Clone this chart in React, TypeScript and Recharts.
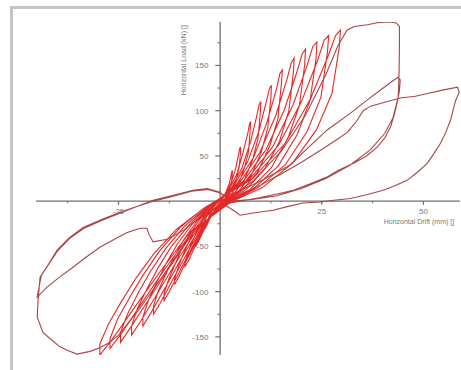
import React from 'react';
import { LineChart, Line, XAxis, YAxis, ReferenceLine, ReferenceDot } from 'recharts';

type Pt = [number, number];

// Inner (small amplitude) cycles: [drift mm, load kN]
const cycle1: Pt[] = [
  [0, 0], [0.8, 4], [1.6, 12], [2.3, 20], [2.7, 29], [2.9, 33], [3.0, 34],
  [3.0, 31], [2.8, 21], [2.4, 14], [1.8, 7], [1.1, 3], [0.3, 0],
  [-0.9, -6], [-1.9, -14], [-2.7, -21], [-3.3, -27], [-3.7, -30],
  [-3.7, -28], [-3.4, -24], [-3.0, -20], [-2.6, -15], [-2.0, -10], [-1.3, -5], [-0.6, -2],
];
const cycle2: Pt[] = [
  [1.4, 8], [2.7, 20], [3.8, 36], [4.5, 51], [4.8, 58], [5.0, 60],
  [5.0, 54], [4.7, 38], [4.0, 25], [3.0, 13], [1.8, 5], [0.5, 0],
  [-1.5, -10], [-3.0, -23], [-4.3, -35], [-5.4, -45], [-6.0, -50],
  [-6.0, -47], [-5.6, -40], [-4.9, -33], [-4.2, -25], [-3.3, -17], [-2.2, -9], [-0.9, -3],
];
const cycle3: Pt[] = [
  [2.0, 11], [4.1, 30], [5.6, 53], [6.8, 75], [7.2, 85], [7.5, 88],
  [7.4, 79], [7.0, 55], [6.0, 37], [4.5, 19], [2.6, 7], [0.8, 0],
  [-2.2, -14], [-4.3, -33], [-6.2, -50], [-7.7, -65], [-8.6, -72],
  [-8.6, -67], [-8.0, -58], [-7.1, -47], [-6.0, -36], [-4.7, -24], [-3.1, -13], [-1.3, -4],
];
const cycle4: Pt[] = [
  [2.7, 14], [5.4, 37], [7.5, 66], [9.0, 94], [9.6, 107], [10.0, 110],
  [9.9, 99], [9.3, 69], [8.0, 46], [6.0, 24], [3.5, 9], [1.0, 0],
  [-2.8, -18], [-5.6, -42], [-8.1, -64], [-10.1, -83], [-11.2, -92],
  [-11.2, -86], [-10.4, -74], [-9.2, -60], [-7.8, -46], [-6.2, -31], [-4.0, -17], [-1.7, -5],
];
const cycle5: Pt[] = [
  [3.4, 17], [6.8, 44], [9.5, 77], [11.3, 109], [12.1, 124], [12.6, 128],
  [12.5, 115], [11.7, 81], [10.1, 54], [7.6, 28], [4.4, 10], [1.3, 0],
  [-3.5, -22], [-6.9, -51], [-9.9, -77], [-12.4, -99], [-13.8, -110],
  [-13.8, -102], [-12.8, -88], [-11.3, -72], [-9.7, -55], [-7.6, -37], [-5.0, -20], [-2.1, -6],
];
const cycle6: Pt[] = [
  [4.1, 19], [8.3, 49], [11.5, 87], [13.8, 123], [14.7, 141], [15.3, 145],
  [15.1, 131], [14.2, 91], [12.2, 61], [9.2, 32], [5.4, 12], [1.5, 0],
  [-4.1, -25], [-8.2, -58], [-11.8, -88], [-14.8, -113], [-16.4, -125],
  [-16.4, -116], [-15.3, -100], [-13.4, -81], [-11.5, -63], [-9.0, -43], [-5.9, -23], [-2.5, -6],
];
const cycle7: Pt[] = [
  [4.9, 21], [9.8, 54], [13.7, 95], [16.4, 134], [17.5, 153], [18.2, 158],
  [18.0, 142], [16.9, 100], [14.6, 66], [10.9, 35], [6.4, 13], [1.8, 0],
  [-4.8, -28], [-9.5, -63], [-13.7, -97], [-17.1, -124], [-19.0, -138],
  [-19.0, -128], [-17.7, -110], [-15.6, -90], [-13.3, -69], [-10.5, -47], [-6.8, -25], [-2.9, -7],
];
const cycle8: Pt[] = [
  [5.7, 22], [11.3, 57], [15.8, 101], [18.9, 143], [20.2, 163], [21.0, 168],
  [20.8, 151], [19.5, 106], [16.8, 71], [12.6, 37], [7.4, 13], [2.1, 0],
  [-5.5, -30], [-10.9, -68], [-15.7, -104], [-19.6, -133], [-21.8, -148],
  [-21.8, -138], [-20.3, -118], [-17.9, -96], [-15.3, -74], [-12.0, -50], [-7.8, -27], [-3.3, -7],
];
const cycle9: Pt[] = [
  [6.4, 23], [12.9, 60], [17.9, 106], [21.4, 150], [22.8, 171], [23.8, 176],
  [23.6, 158], [22.1, 111], [19.0, 74], [14.3, 39], [8.3, 14], [2.4, 0],
  [-6.1, -31], [-12.3, -72], [-17.6, -109], [-22.1, -140], [-24.5, -156],
  [-24.5, -145], [-22.8, -125], [-20.1, -101], [-17.2, -78], [-13.5, -53], [-8.8, -28], [-3.7, -8],
];
const cycle10: Pt[] = [
  [7.2, 24], [14.4, 62], [20.0, 110], [24.0, 156], [25.6, 178], [26.7, 183],
  [26.4, 165], [24.8, 115], [21.4, 77], [16.0, 40], [9.3, 15], [2.7, 0],
  [-6.8, -33], [-13.6, -75], [-19.5, -114], [-24.4, -147], [-27.1, -163],
  [-27.1, -152], [-25.2, -130], [-22.2, -106], [-19.0, -82], [-14.9, -55], [-9.8, -29], [-4.1, -8],
];
const cycle11: Pt[] = [
  [8.0, 25], [16.0, 64], [22.2, 113], [26.6, 161], [28.4, 183], [29.6, 189],
  [29.3, 170], [27.5, 119], [23.7, 79], [17.8, 42], [10.4, 15], [3.0, 0],
  [-7.4, -34], [-14.8, -78], [-21.3, -119], [-26.6, -153], [-29.6, -170],
  [-29.6, -158], [-27.5, -136], [-24.3, -111], [-20.7, -85], [-16.3, -58], [-10.7, -31], [-4.4, -9],
];

// Large amplitude cycles
const bigCycleA: Pt[] = [
  [-1.5, -2], [2, 3], [8, 22], [15, 55], [21, 95], [26, 140], [29, 172], [31.2, 189],
  [33, 193], [36.2, 195], [39, 197.5], [41.8, 198], [43.3, 197], [44.1, 193],
  [44.1, 170], [44.0, 140], [43.8, 115], [42.5, 92], [40.5, 75], [37, 57], [32, 40],
  [26, 25], [20, 14], [14, 6], [8, 2], [3, 0], [0, -2],
  [-3, -15], [-8, -42], [-14, -82], [-20, -120], [-25, -148], [-27.5, -157], [-29.6, -162],
  [-32, -166], [-35.2, -169], [-37.5, -165], [-39.4, -161], [-41.8, -152], [-43.6, -145],
  [-45, -128], [-44.8, -110],
  [-44.3, -84], [-42, -68], [-40.1, -54], [-37, -40], [-33.7, -29], [-29, -20], [-25.1, -13],
  [-20, -5], [-16.5, 1], [-12, 6], [-6.7, 12], [-3.2, 14], [0, 10], [1, 5],
];
const bigCycleB: Pt[] = [
  [1, 5], [4, 10], [9, 20], [14, 32], [17.2, 40], [21.4, 58], [26.4, 79], [32, 97],
  [36.2, 112], [40.1, 125], [42.5, 133], [43.8, 137], [44.3, 134], [44.1, 122],
  [43.6, 110], [42.8, 95], [41.9, 82], [40.5, 70], [38.7, 60], [36, 50], [32.8, 42],
  [29, 34], [26.4, 27], [22, 19], [18, 12], [14, 8], [9.9, 4], [5, 0], [1, -3],
  [-4, -15], [-9, -32], [-13, -42], [-16.5, -45], [-17.5, -37], [-18, -30], [-19.7, -30],
  [-23, -35], [-26, -42], [-29.6, -51], [-33, -62], [-36.2, -73], [-39.5, -84], [-42.6, -95],
  [-45, -106],
  [-44, -82], [-40, -55], [-37, -41], [-33.5, -30], [-29, -21], [-25, -14], [-20.5, -6],
  [-16.5, 0], [-12, 5], [-7, 11], [-3, 13], [0, 9], [2, 4],
];
const bigCycleC: Pt[] = [
  [2, 4], [5, 8], [10, 18], [15, 30], [20, 43], [24.6, 56], [28, 66], [31.3, 76],
  [33.5, 88], [35.2, 100], [37, 105], [39.4, 108], [44.3, 114], [48, 116], [51, 119],
  [55, 123], [58.4, 126], [58.8, 120], [57.9, 111], [56.7, 90], [55.5, 76], [54.2, 64],
  [52.5, 52], [51, 42], [48.5, 32], [46, 23], [43, 17], [40.1, 12], [36, 7], [32, 3],
  [28, 1], [24.6, -1], [20.4, -2], [16.5, -6], [13, -10], [8.1, -13], [4.9, -15.5],
  [3.2, -10], [1.5, -5], [0, -2],
];

const innerCycles: Pt[][] = [cycle1, cycle2, cycle3, cycle4, cycle5, cycle6, cycle7, cycle8, cycle9, cycle10, cycle11];
const outerCycles: Pt[][] = [bigCycleA, bigCycleB, bigCycleC];

const xMajorTicks = [-25, 25, 50];
const xTickLabels = ['-25', '25', '50'];
const xMinorTicks = [-37.5, -12.5, 12.5, 37.5];
const yMajorTicks = [-150, -100, -50, 50, 100, 150];
const yTickLabels = ['-150', '-100', '-50', '50', '100', '150'];
const yMinorTicks = [-125, -75, -25, 25, 75, 125, 175];

const xAxisTitle = 'Horizontal Drift (mm) []';
const yAxisTitle = 'Horizontal Load (kN) []';

const toRows = (cycles: Pt[][]) => cycles.flat().map(([x, y]) => ({ x, y }));
const innerData = toRows(innerCycles);
const outerData = toRows(outerCycles);

const FONT = '"Liberation Sans", Arial, sans-serif';
const AXIS = '#6e6e6e';
const LABEL = '#7a7a7a';

export default function App() {
  return (
    <div style={{ position: 'absolute', left: 0, top: 0, width: 461, height: 370, background: '#fff', overflow: 'hidden' }}>
      <div
        style={{
          position: 'absolute', left: 10, top: 6, width: 470, height: 380,
          borderLeft: '3px solid #c4c4c4', borderTop: '3px solid #c4c4c4',
        }}
      />
      <div style={{ position: 'absolute', left: 0, top: 0 }}>
        <LineChart width={461} height={370} margin={{ top: 22, right: 1, bottom: 15, left: 36 }}>
          <XAxis type="number" dataKey="x" domain={[-45.3, 59]} allowDataOverflow hide />
          <YAxis type="number" dataKey="y" domain={[-170, 198]} allowDataOverflow hide />
          <ReferenceLine y={0} stroke={AXIS} strokeWidth={1.3} />
          <ReferenceLine x={0} stroke={AXIS} strokeWidth={1.3} />
          {yMajorTicks.map((v) => (
            <ReferenceLine key={'ym' + v} segment={[{ x: -1.2, y: v }, { x: 0, y: v }]} stroke={AXIS} strokeWidth={1.2} />
          ))}
          {yMinorTicks.map((v) => (
            <ReferenceLine key={'yn' + v} segment={[{ x: -0.7, y: v }, { x: 0, y: v }]} stroke={AXIS} strokeWidth={1} />
          ))}
          {xMajorTicks.map((v) => (
            <ReferenceLine key={'xm' + v} segment={[{ x: v, y: -4 }, { x: v, y: 0 }]} stroke={AXIS} strokeWidth={1.2} />
          ))}
          {xMinorTicks.map((v) => (
            <ReferenceLine key={'xn' + v} segment={[{ x: v, y: -2.5 }, { x: v, y: 0 }]} stroke={AXIS} strokeWidth={1} />
          ))}
          {yMajorTicks.map((v, i) => (
            <ReferenceDot
              key={'yl' + v}
              x={-2.9}
              y={v}
              r={0}
              shape={(p: any) => (
                <text x={p.cx} y={p.cy} dy={3} textAnchor="end" fontSize={8} fill={LABEL} fontFamily={FONT}>
                  {yTickLabels[i]}
                </text>
              )}
            />
          ))}
          {xMajorTicks.map((v, i) => (
            <ReferenceDot
              key={'xl' + v}
              x={v}
              y={0}
              r={0}
              shape={(p: any) => (
                <text x={p.cx} y={p.cy} dy={12.5} textAnchor="middle" fontSize={8} fill={LABEL} fontFamily={FONT}>
                  {xTickLabels[i]}
                </text>
              )}
            />
          ))}
          <ReferenceDot
            x={-9.1}
            y={155.8}
            r={0}
            shape={(p: any) => (
              <text
                x={p.cx}
                y={p.cy}
                dy={2.5}
                textAnchor="middle"
                fontSize={7}
                fill={LABEL}
                fontFamily={FONT}
                transform={`rotate(-90, ${p.cx}, ${p.cy})`}
              >
                {yAxisTitle}
              </text>
            )}
          />
          <ReferenceDot
            x={48.9}
            y={-22.8}
            r={0}
            shape={(p: any) => (
              <text x={p.cx} y={p.cy} dy={2.5} textAnchor="middle" fontSize={7} fill={LABEL} fontFamily={FONT}>
                {xAxisTitle}
              </text>
            )}
          />
          <Line
            data={outerData}
            dataKey="y"
            type="linear"
            stroke="#a84646"
            strokeWidth={1.1}
            dot={false}
            activeDot={false}
            isAnimationActive={false}
          />
          <Line
            data={innerData}
            dataKey="y"
            type="linear"
            stroke="#e12a2a"
            strokeWidth={1.1}
            dot={false}
            activeDot={false}
            isAnimationActive={false}
          />
        </LineChart>
      </div>
    </div>
  );
}
